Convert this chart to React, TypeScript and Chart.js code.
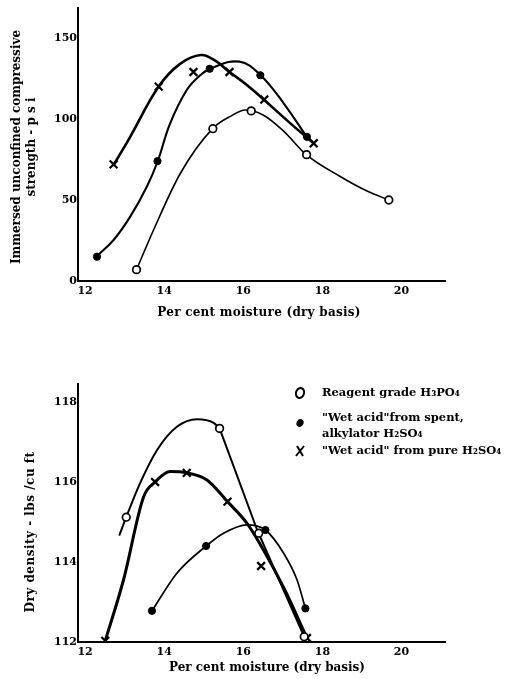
import React, { useEffect, useRef } from "react";
import { Chart, registerables } from "chart.js";

Chart.register(...registerables);

const FONT = "'DejaVu Serif', 'Liberation Serif', serif";

// ---- axis ticks and labels ----
const xTickValues = [12, 14, 16, 18, 20];
const strengthTickValues = [0, 50, 100, 150];
const densityTickValues = [112, 114, 116, 118];

const xAxisTitle = "Per cent moisture (dry basis)";
const strengthAxisTitle = ["Immersed unconfined compressive", "strength - p s i"];
const densityAxisTitle = "Dry density - lbs /cu ft";

const legendLabels = [
  ["Reagent grade H\u2083PO\u2084"],
  ["\"Wet acid\"from spent,", "alkylator H\u2082SO\u2084"],
  ["\"Wet acid\" from pure H\u2082SO\u2084"],
];

// ---- top chart: measured points ----
const strengthMoistReagent = [13.3, 15.23, 16.2, 17.6, 19.68];
const strengthReagent = [7, 94, 105, 78, 50];
const strengthMoistSpent = [12.3, 13.83, 15.15, 16.43, 17.61];
const strengthSpent = [15, 74, 131, 127, 89];
const strengthMoistPure = [12.72, 13.86, 14.74, 15.65, 16.53, 17.78];
const strengthPure = [72, 120, 129, 129, 112, 85];

// ---- top chart: hand-drawn curves ----
const strengthCurveReagentX = [13.3, 13.73, 14.41, 15.23, 15.67, 16.05, 16.5, 17.0, 17.6, 18.45, 19.13, 19.68];
const strengthCurveReagentY = [7, 31.5, 66.5, 94.2, 101.6, 105.5, 102.5, 93, 77.8, 64.5, 55.5, 50];
const strengthCurveSpentX = [12.3, 12.72, 13.14, 13.56, 13.83, 14.15, 14.57, 14.91, 15.2, 15.9, 16.43, 17.02, 17.61];
const strengthCurveSpentY = [15.4, 25.3, 39.7, 58.2, 73.6, 97.3, 117.9, 127, 131.5, 135.4, 127.2, 109.7, 88.7];
const strengthCurvePureX = [12.72, 13.14, 13.86, 14.4, 14.93, 15.3, 15.65, 16.09, 16.53, 17.19, 17.78];
const strengthCurvePureY = [71.6, 89, 120, 134, 139.5, 135.8, 129, 121, 111.7, 97.3, 85];

// ---- bottom chart: measured points ----
const densityMoistReagent = [13.04, 15.4, 16.39, 17.54];
const densityReagent = [115.12, 117.34, 114.72, 112.13];
const densityMoistSpent = [13.69, 15.06, 16.56, 17.57];
const densitySpent = [112.78, 114.4, 114.8, 112.84];
const densityMoistPure = [12.51, 13.77, 14.57, 15.6, 16.45, 17.61];
const densityPure = [112.03, 116.0, 116.23, 115.51, 113.9, 112.1];

// ---- bottom chart: hand-drawn curves ----
const densityCurveReagentX = [12.87, 13.04, 13.39, 13.82, 14.32, 14.83, 15.25, 15.4];
const densityCurveReagentY = [114.68, 115.12, 115.97, 116.8, 117.38, 117.57, 117.48, 117.34];
const densityLineReagentX = [15.4, 16.35, 17.54];
const densityLineReagentY = [117.34, 114.8, 112.13];
const densityCurveSpentX = [13.69, 14.32, 15.06, 15.5, 16.09, 16.56, 17.02, 17.36, 17.57];
const densityCurveSpentY = [112.78, 113.72, 114.4, 114.72, 114.93, 114.8, 114.22, 113.55, 112.84];
const densityCurvePureX = [12.51, 12.97, 13.48, 13.77, 14.15, 14.57, 15.08, 15.6, 16.09, 16.51, 17.05, 17.61];
const densityCurvePureY = [112.03, 113.55, 115.63, 116.0, 116.26, 116.23, 116.05, 115.51, 114.97, 114.3, 113.3, 112.1];

function pts(xs: number[], ys: number[]) {
  return xs.map((x, i) => ({ x, y: ys[i] }));
}

type Smooth = "monotone" | "bezier" | "straight";

function curve(xs: number[], ys: number[], width: number, smooth: Smooth = "monotone") {
  return {
    data: pts(xs, ys),
    showLine: true,
    borderColor: "#000",
    backgroundColor: "#000",
    borderWidth: width,
    borderCapStyle: "round",
    borderJoinStyle: "round",
    pointRadius: 0,
    pointHoverRadius: 0,
    cubicInterpolationMode: smooth === "monotone" ? "monotone" : "default",
    tension: smooth === "straight" ? 0 : 0.4,
    fill: false,
    order: 2,
  };
}

function markers(xs: number[], ys: number[], kind: "open" | "filled" | "cross") {
  const base: any = {
    data: pts(xs, ys),
    showLine: false,
    order: 1,
    pointBorderColor: "#000",
    borderColor: "#000",
  };
  if (kind === "open") {
    return { ...base, pointStyle: "circle", pointRadius: 3.8, pointBorderWidth: 1.7, pointBackgroundColor: "#fff", backgroundColor: "#fff" };
  }
  if (kind === "filled") {
    return { ...base, pointStyle: "circle", pointRadius: 3.6, pointBorderWidth: 1, pointBackgroundColor: "#000", backgroundColor: "#000" };
  }
  return { ...base, pointStyle: "crossRot", pointRadius: 5.5, pointBorderWidth: 2.2, pointBackgroundColor: "#000", backgroundColor: "#000" };
}

const tickFont = { family: FONT, size: 11, weight: "bold" as const, lineHeight: 1.2 };

function xScale(height: number) {
  return {
    type: "linear" as const,
    min: 11.82,
    max: 21.1,
    grid: { display: false, drawTicks: false },
    border: { display: true, color: "#000", width: 2 },
    ticks: { color: "#000", font: tickFont, padding: 4, maxRotation: 0, autoSkip: false, callback: (v: any) => String(v) },
    afterBuildTicks: (s: any) => {
      s.ticks = xTickValues.map((v) => ({ value: v }));
    },
    afterFit: (s: any) => {
      s.height = height;
      s.paddingLeft = 0;
      s.paddingRight = 0;
    },
  };
}

function yScale(min: number, max: number, tickValues: number[]) {
  return {
    type: "linear" as const,
    min,
    max,
    grid: { display: false, drawTicks: false },
    border: { display: true, color: "#000", width: 2 },
    ticks: { color: "#000", font: tickFont, padding: 1, autoSkip: false, callback: (v: any) => String(v) },
    afterBuildTicks: (s: any) => {
      s.ticks = tickValues.map((v) => ({ value: v }));
    },
    afterFit: (s: any) => {
      s.width = 78;
      s.paddingTop = 0;
      s.paddingBottom = 0;
    },
  };
}

type TextItem = { lines: string[]; x: number; y: number; rotate?: boolean; lineGap?: number; left?: boolean; size?: number; spacing?: number };

function textPlugin(id: string, items: TextItem[], legend?: { marks: { kind: string; x: number; y: number }[] }) {
  return {
    id,
    afterDraw(chart: any) {
      const ctx = chart.ctx as CanvasRenderingContext2D;
      ctx.save();
      ctx.fillStyle = "#000";
      ctx.strokeStyle = "#000";
      ctx.textBaseline = "middle";
      for (const it of items) {
        const gap = it.lineGap ?? 15;
        ctx.font = `bold ${it.size ?? 12}px ${FONT}`;
        (ctx as any).letterSpacing = `${it.spacing ?? 0}px`;
        if (it.rotate) {
          ctx.save();
          ctx.translate(it.x, it.y);
          ctx.rotate(-Math.PI / 2);
          ctx.textAlign = "center";
          it.lines.forEach((t, i) => ctx.fillText(t, 0, i * gap));
          ctx.restore();
        } else {
          ctx.textAlign = it.left ? "left" : "center";
          it.lines.forEach((t, i) => ctx.fillText(t, it.x, it.y + i * gap));
        }
      }
      (ctx as any).letterSpacing = "0px";
      if (legend) {
        for (const m of legend.marks) {
          ctx.beginPath();
          if (m.kind === "open") {
            ctx.lineWidth = 2;
            ctx.ellipse(m.x, m.y, 4, 5, 0.35, 0, Math.PI * 2);
            ctx.stroke();
          } else if (m.kind === "filled") {
            ctx.ellipse(m.x, m.y, 3.5, 4, 0.4, 0, Math.PI * 2);
            ctx.fill();
          } else {
            ctx.lineWidth = 2;
            ctx.moveTo(m.x - 4, m.y + 5);
            ctx.lineTo(m.x + 4, m.y - 5);
            ctx.moveTo(m.x - 3, m.y - 5);
            ctx.lineTo(m.x + 3, m.y + 5);
            ctx.stroke();
          }
        }
      }
      ctx.restore();
    },
  };
}

function topConfig(): any {
  return {
    type: "scatter",
    data: {
      datasets: [
        curve(strengthCurveReagentX, strengthCurveReagentY, 1.6, "monotone"),
        curve(strengthCurveSpentX, strengthCurveSpentY, 2.1, "bezier"),
        curve(strengthCurvePureX, strengthCurvePureY, 2.6, "bezier"),
        markers(strengthMoistReagent, strengthReagent, "open"),
        markers(strengthMoistSpent, strengthSpent, "filled"),
        markers(strengthMoistPure, strengthPure, "cross"),
      ],
    },
    options: {
      animation: false,
      responsive: false,
      layout: { padding: { left: 0, top: 8, right: 72, bottom: 0 } },
      plugins: { legend: { display: false }, tooltip: { enabled: false } },
      scales: {
        x: xScale(49),
        y: yScale(0, 168.5, strengthTickValues),
      },
    },
    plugins: [
      textPlugin("topTexts", [
        { lines: [xAxisTitle], x: 259, y: 313, size: 12, spacing: 0.25 },
        { lines: strengthAxisTitle, x: 17, y: 147, rotate: true, lineGap: 15, size: 12 },
      ]),
    ],
  };
}

function bottomConfig(): any {
  const legendItems: TextItem[] = [
    { lines: legendLabels[0], x: 322, y: 53, left: true, size: 11.5 },
    { lines: legendLabels[1], x: 322, y: 78, left: true, lineGap: 16, size: 11.5 },
    { lines: legendLabels[2], x: 322, y: 111, left: true, size: 11.5 },
  ];
  return {
    type: "scatter",
    data: {
      datasets: [
        curve(densityCurveReagentX, densityCurveReagentY, 2, "monotone"),
        curve(densityLineReagentX, densityLineReagentY, 2, "straight"),
        curve(densityCurveSpentX, densityCurveSpentY, 1.7, "monotone"),
        curve(densityCurvePureX, densityCurvePureY, 3, "monotone"),
        markers(densityMoistReagent, densityReagent, "open"),
        markers(densityMoistSpent, densitySpent, "filled"),
        markers(densityMoistPure, densityPure, "cross"),
      ],
    },
    options: {
      animation: false,
      responsive: false,
      layout: { padding: { left: 0, top: 44, right: 72, bottom: 0 } },
      plugins: { legend: { display: false }, tooltip: { enabled: false } },
      scales: {
        x: xScale(37),
        y: yScale(112, 118.45, densityTickValues),
      },
    },
    plugins: [
      textPlugin(
        "bottomTexts",
        [
          { lines: [xAxisTitle], x: 267, y: 328, size: 12 },
          { lines: [densityAxisTitle], x: 31, y: 192, rotate: true, size: 12, spacing: 0.5 },
          ...legendItems,
        ],
        {
          marks: [
            { kind: "open", x: 300, y: 53 },
            { kind: "filled", x: 300, y: 83 },
            { kind: "cross", x: 300, y: 111 },
          ],
        }
      ),
    ],
  };
}

export default function App() {
  const topRef = useRef<HTMLCanvasElement>(null);
  const bottomRef = useRef<HTMLCanvasElement>(null);

  useEffect(() => {
    const top = new Chart(topRef.current as HTMLCanvasElement, topConfig());
    const bottom = new Chart(bottomRef.current as HTMLCanvasElement, bottomConfig());
    return () => {
      top.destroy();
      bottom.destroy();
    };
  }, []);

  return (
    <div style={{ position: "absolute", left: 0, top: 0, width: 517, height: 679, background: "#fff" }}>
      <canvas
        ref={topRef}
        width={517}
        height={330}
        style={{ position: "absolute", left: 0, top: 0, width: 517, height: 330 }}
      />
      <canvas
        ref={bottomRef}
        width={517}
        height={339}
        style={{ position: "absolute", left: 0, top: 340, width: 517, height: 339 }}
      />
    </div>
  );
}
